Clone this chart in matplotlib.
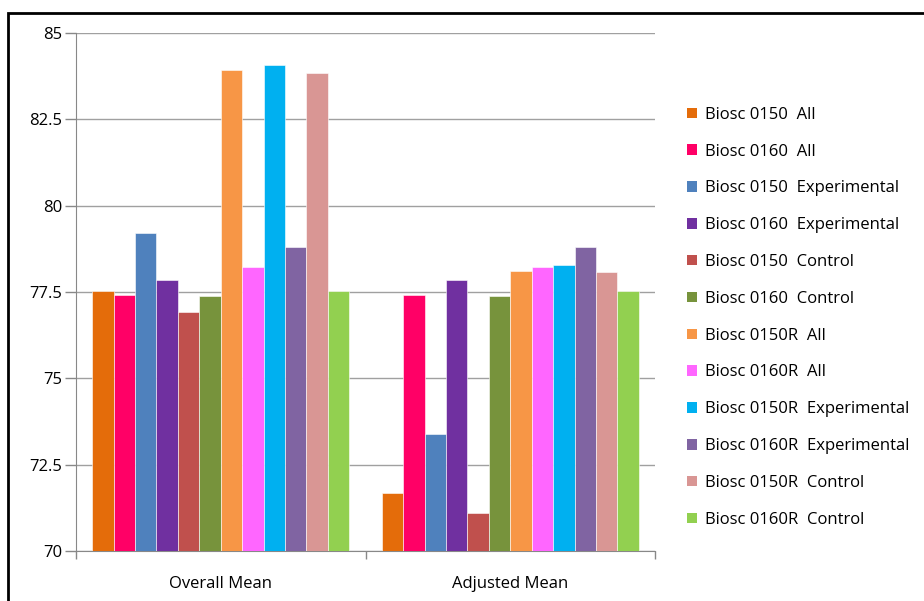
import matplotlib
matplotlib.use("Agg")
import matplotlib.pyplot as plt
from matplotlib.patches import Patch, Rectangle
import numpy as np

plt.rcParams['font.family'] = ['Open Sans', 'DejaVu Sans']

categories = ["Overall Mean", "Adjusted Mean"]
series = [
    "Biosc 0150  All", "Biosc 0160  All",
    "Biosc 0150  Experimental", "Biosc 0160  Experimental",
    "Biosc 0150  Control", "Biosc 0160  Control",
    "Biosc 0150R  All", "Biosc 0160R  All",
    "Biosc 0150R  Experimental", "Biosc 0160R  Experimental",
    "Biosc 0150R  Control", "Biosc 0160R  Control",
]
overall_mean = [77.52, 77.41, 79.20, 77.84, 76.93, 77.37,
                83.92, 78.23, 84.07, 78.81, 83.84, 77.52]
adjusted_mean = [71.68, 77.40, 73.39, 77.84, 71.09, 77.37,
                 78.12, 78.22, 78.27, 78.81, 78.07, 77.52]
colors = ["#E46C0A", "#FF0066", "#4F81BD", "#7030A0", "#C0504D", "#77933C",
          "#F79646", "#FF66FF", "#00B0F0", "#8064A2", "#D99694", "#92D050"]
yticks = [70, 72.5, 75, 77.5, 80, 82.5, 85]

fig = plt.figure(figsize=(9.24, 6.01), dpi=100)
ax = fig.add_axes([76 / 924, 50 / 601, 579 / 924, 518 / 601])

n = len(series)
w = 0.074
x = np.arange(len(categories))
for i in range(n):
    vals = [overall_mean[i], adjusted_mean[i]]
    ax.bar(x + (i - (n - 1) / 2) * w, np.array(vals) - 70, width=w, bottom=70,
           color=colors[i], edgecolor="white", linewidth=0.4, zorder=3,
           label=series[i])

ax.set_xlim(-0.5, 1.5)
ax.set_ylim(70, 85)
ax.set_yticks(yticks)
ax.set_yticklabels(["70", "72.5", "75", "77.5", "80", "82.5", "85"])
ax.yaxis.grid(True, color="#A0A0A0", linewidth=1.0, zorder=0)

ax.set_xticks([-0.5, 0.5, 1.5])
ax.set_xticklabels([])
ax.set_xticks(x, minor=True)
ax.set_xticklabels(categories, minor=True)
ax.tick_params(axis="x", which="major", length=6, color="#888888", width=1)
ax.tick_params(axis="x", which="minor", length=0, pad=18, labelsize=12)
ax.tick_params(axis="y", length=8, color="#888888", width=1, labelsize=12, pad=2)

for s in ["top", "right"]:
    ax.spines[s].set_visible(False)
for s in ["left", "bottom"]:
    ax.spines[s].set_color("#888888")

handles = [Patch(facecolor=c) for c in colors]
fig.legend(handles, series, loc="upper left", bbox_to_anchor=(680 / 924, 1 - 100 / 601),
           frameon=False, fontsize=12, handlelength=0.6, handleheight=0.6,
           handletextpad=0.5, labelspacing=1.25, borderaxespad=0)

fig.add_artist(Rectangle((8 / 924, -0.05), 1.0, 1 - 13 / 601 + 0.05,
                         transform=fig.transFigure, fill=False,
                         edgecolor="black", linewidth=2))

fig.savefig("out.png", dpi=100)
